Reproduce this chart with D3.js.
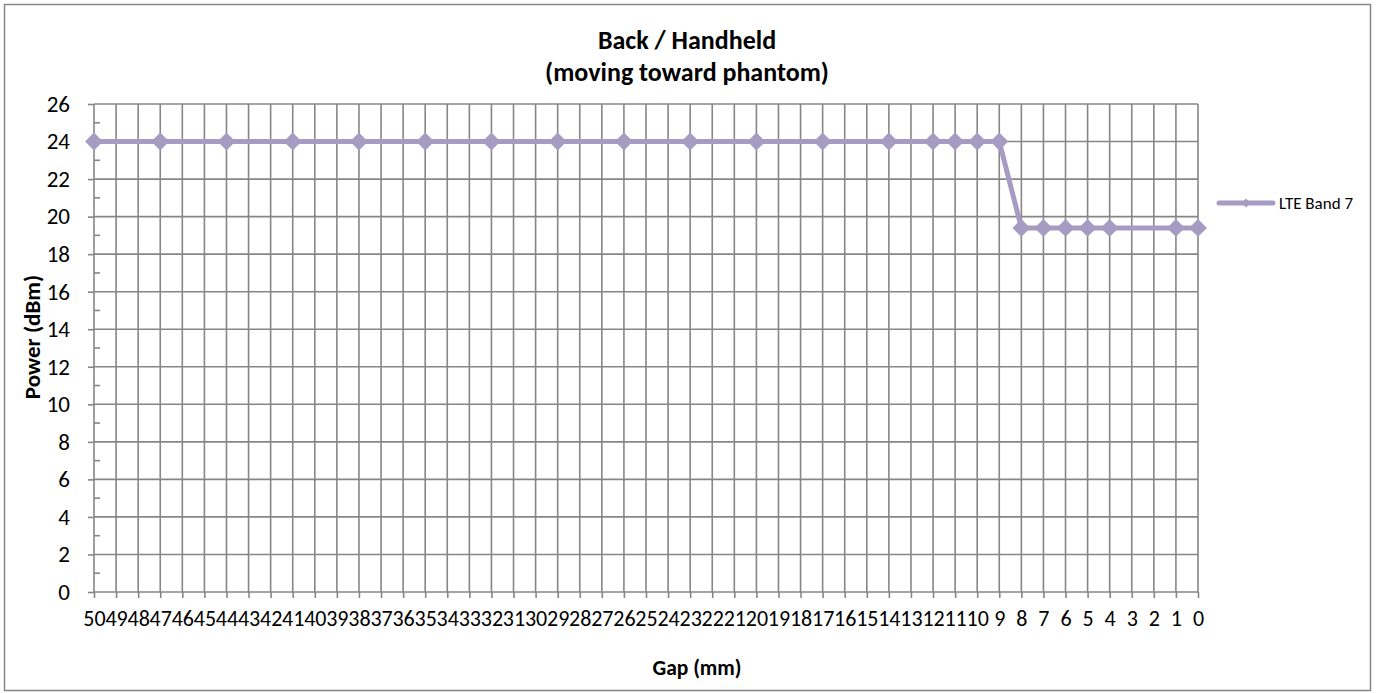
<!DOCTYPE html>
<html>
<head>
<meta charset="utf-8">
<script src="https://cdn.jsdelivr.net/npm/d3@7"></script>
<style>
  body { margin: 0; background: #fff; }
  svg text { font-family: Carlito, Calibri, Lato, sans-serif; fill: #000; }
</style>
</head>
<body>
<div id="chart"></div>
<script>
// gap categories on the x axis (50 mm down to 0 mm)
var categories = d3.range(50, -1, -1);
// gaps where a measurement was taken
var gaps = [50, 47, 44, 41, 38, 35, 32, 29, 26, 23, 20, 17, 14, 12, 11, 10, 9, 8, 7, 6, 5, 4, 1, 0];
// LTE Band 7 power (dBm)
var power = [24, 24, 24, 24, 24, 24, 24, 24, 24, 24, 24, 24, 24, 24, 24, 24, 24, 19.4, 19.4, 19.4, 19.4, 19.4, 19.4, 19.4];
var yTicks = d3.range(0, 27, 2);
var seriesName = "LTE Band 7";

var width = 1378, height = 693;
var lineColor = "#a69bc2";
var gridColor = "#868686";

var svg = d3.select("#chart").append("svg")
  .attr("width", width)
  .attr("height", height);

// chart border
svg.append("rect")
  .attr("x", 4.5).attr("y", 4.5)
  .attr("width", 1366).attr("height", 686)
  .attr("fill", "#fff")
  .attr("stroke", gridColor)
  .attr("stroke-width", 1.5);

var x = d3.scalePoint().domain(categories).range([94, 1198]);
var y = d3.scaleLinear().domain([0, 26]).range([592, 104]);

// horizontal gridlines
svg.append("g").selectAll("line")
  .data(yTicks)
  .enter().append("line")
  .attr("x1", x(50)).attr("x2", x(0))
  .attr("y1", d => y(d)).attr("y2", d => y(d))
  .attr("stroke", gridColor).attr("stroke-width", 1.6);

// vertical gridlines
svg.append("g").selectAll("line")
  .data(categories)
  .enter().append("line")
  .attr("x1", d => x(d)).attr("x2", d => x(d))
  .attr("y1", y(26)).attr("y2", y(0))
  .attr("stroke", gridColor).attr("stroke-width", 1.6);

// y axis: major ticks outside, minor ticks inside
var yAxis = svg.append("g").attr("transform", "translate(" + x(50) + ",0)")
  .call(d3.axisLeft(y).tickValues(yTicks).tickSize(6).tickPadding(18));
yAxis.select(".domain").remove();
yAxis.selectAll("line").attr("stroke", gridColor).attr("stroke-width", 1.6);
yAxis.selectAll("text").attr("font-size", 23).attr("fill", "#000");
svg.append("g").selectAll("line")
  .data(d3.range(1, 26, 2))
  .enter().append("line")
  .attr("x1", x(50)).attr("x2", x(50) + 6)
  .attr("y1", d => y(d)).attr("y2", d => y(d))
  .attr("stroke", gridColor).attr("stroke-width", 1.6);

// x axis
var xAxis = svg.append("g").attr("transform", "translate(0," + y(0) + ")")
  .call(d3.axisBottom(x).tickSize(6).tickPadding(12));
xAxis.select(".domain").remove();
xAxis.selectAll("line").attr("stroke", gridColor).attr("stroke-width", 1.6);
xAxis.selectAll("text").attr("font-size", 22).attr("fill", "#000");

// series line
var points = gaps.map((g, i) => ({ gap: g, value: power[i] }));
svg.append("path")
  .datum(points)
  .attr("fill", "none")
  .attr("stroke", lineColor)
  .attr("stroke-width", 5)
  .attr("stroke-linejoin", "round")
  .attr("d", d3.line().x(d => x(d.gap)).y(d => y(d.value)));

var diamond = d3.symbol().type(d3.symbolSquare).size(160);
svg.append("g").selectAll("path")
  .data(points)
  .enter().append("path")
  .attr("d", diamond)
  .attr("transform", d => "translate(" + x(d.gap) + "," + y(d.value) + ") rotate(45)")
  .attr("fill", lineColor);

// titles
svg.append("text")
  .attr("x", 687).attr("y", 49)
  .attr("text-anchor", "middle")
  .attr("font-size", 26).attr("font-weight", "bold")
  .text("Back / Handheld");
svg.append("text")
  .attr("x", 687).attr("y", 81)
  .attr("text-anchor", "middle")
  .attr("font-size", 26).attr("font-weight", "bold")
  .text("(moving toward phantom)");

svg.append("text")
  .attr("x", 697).attr("y", 675)
  .attr("text-anchor", "middle")
  .attr("font-size", 21.5).attr("font-weight", "bold")
  .text("Gap (mm)");

svg.append("text")
  .attr("transform", "translate(40,337) rotate(-90)")
  .attr("text-anchor", "middle")
  .attr("font-size", 23).attr("font-weight", "bold")
  .text("Power (dBm)");

// legend
var legend = svg.append("g").attr("transform", "translate(1219,203)");
legend.append("line")
  .attr("x1", 0).attr("x2", 54)
  .attr("stroke", lineColor).attr("stroke-width", 5)
  .attr("stroke-linecap", "round");
legend.append("path")
  .attr("d", d3.symbol().type(d3.symbolSquare).size(40))
  .attr("transform", "translate(27,0) rotate(45)")
  .attr("fill", lineColor);
legend.append("text")
  .attr("x", 60).attr("y", 6)
  .attr("font-size", 17)
  .text(seriesName);
</script>
</body>
</html>
